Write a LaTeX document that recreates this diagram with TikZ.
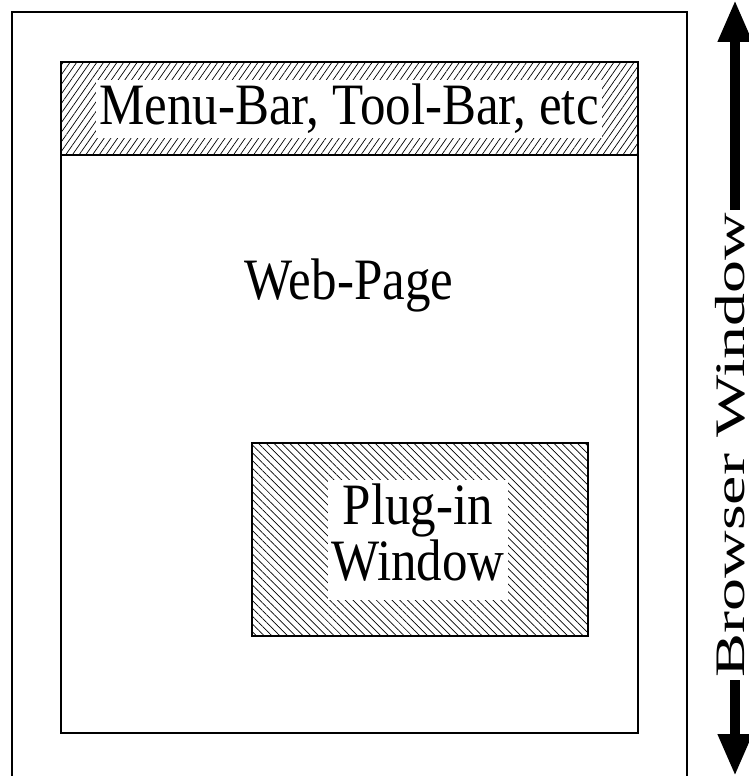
\documentclass[tikz,border=0pt]{standalone}
\usepackage{fontspec}
\setmainfont{Liberation Serif}
\usetikzlibrary{patterns.meta,arrows.meta}
\newcommand{\tall}[1]{\scalebox{1}[1.15]{#1}}
\tikzset{
  frame/.style={draw=black, line width=1.4pt},
  bigtext/.style={font=\fontsize{51}{45}\selectfont},
  label/.style={bigtext, fill=white, inner xsep=3pt, inner ysep=4pt},
  bigarrow/.style={line width=10pt, -{Triangle[width=32pt,length=42pt]}}
}
\begin{document}
\begin{tikzpicture}[x=1pt, y=-1pt]
  \useasboundingbox (0,0) rectangle (749,776);
  % browser frame, open at the bottom
  \draw[frame] (12,790) -- (12,12) -- (687,12) -- (687,790);
  % menu bar strip
  \path[pattern={Lines[angle=55, distance=5.5pt, line width=0.7pt]}] (61,62) rectangle (638,155);
  % web page area
  \draw[frame] (61,62) rectangle (638,733);
  \draw[frame] (61,155) -- (638,155);
  \node[label] (menu) at (349,109) {\tall{Menu-Bar, Tool-Bar, etc}};
  \node[bigtext] (page) at (349,285) {\tall{Web-Page}};
  % plug-in window
  \path[pattern={Lines[angle=-45, distance=5.5pt, line width=0.7pt]}] (252,443) rectangle (588,636);
  \draw[frame] (252,443) rectangle (588,636);
  \node[label] (plug) at (418,540) {\tall{\begin{tabular}{@{}c@{}}Plug-in\\Window\end{tabular}}};
  % browser window extent
  \node[rotate=90, font=\fontsize{42}{42}\selectfont, inner sep=0pt] (bw) at (730,445) {\scalebox{1.57}[1]{Browser Window}};
  \coordinate (top) at (735,0);
  \coordinate (bot) at (735,776);
  \draw[bigarrow] (bw.east) ++(5,-3) -- (top);
  \draw[bigarrow] (bw.west) ++(5,3) -- (bot);
\end{tikzpicture}
\end{document}
